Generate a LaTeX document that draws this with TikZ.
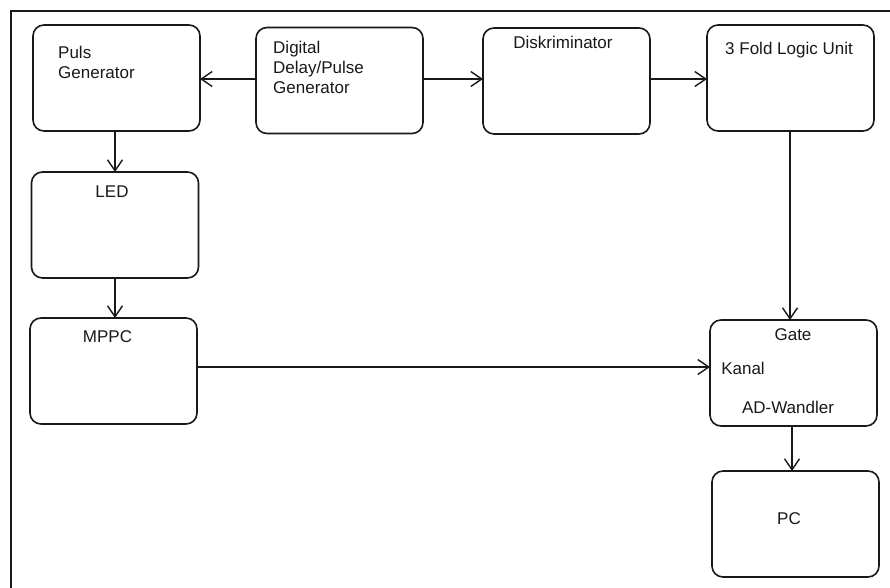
\documentclass[tikz,border=0pt]{standalone}
\usepackage{fontspec}
\setmainfont{Liberation Sans}
\usetikzlibrary{arrows.meta}
\begin{document}
\begin{tikzpicture}[x=1pt,y=-1pt,
  box/.style={draw=black!90,line width=1.6pt,rounded corners=11pt,minimum width=167pt,minimum height=106pt,inner sep=0pt,outer sep=0pt},
  lbl/.style={font=\fontsize{17}{20}\selectfont,inner sep=0pt,text=black!90},
  conn/.style={draw=black!90,line width=1.6pt,-{Straight Barb[length=11pt,width=15pt,line width=1.4pt]}}]
\useasboundingbox (0,0) rectangle (890,587);
\fill[white] (0,0) rectangle (890,587);
% outer frame
\coordinate (fb) at (11,600);
\coordinate (fc) at (11,11);
\coordinate (fr) at (900,11);
\draw[line width=1.8pt,black!90] (fb) -- (fc) -- (fr);
% boxes
\node[box] (pg) at (116.5,78) {};
\node[box] (dd) at (339.5,80.5) {};
\node[box] (dk) at (566.5,81) {};
\node[box] (fl) at (790.5,78) {};
\node[box] (led) at (115,225) {};
\node[box] (mppc) at (113.5,371) {};
\node[box] (adc) at (793.5,373) {};
\node[box] (pc) at (795.5,524) {};
% labels
\node[lbl,align=left,anchor=west] (tpg) at (58,62) {Puls\\Generator};
\node[lbl,align=left,anchor=west] (tdd) at (273,67) {Digital\\Delay/Pulse\\Generator};
\node[lbl] (tdk) at (563,42) {Diskriminator};
\node[lbl] (tfl) at (789,50) {3 Fold Logic Unit};
\node[lbl] (tled) at (112,192) {LED};
\node[lbl] (tmppc) at (107.5,337) {MPPC};
\node[lbl] (tgate) at (793,335) {Gate};
\node[lbl] (tkanal) at (743,368) {Kanal};
\node[lbl] (tadw) at (788,407) {AD-Wandler};
\node[lbl] (tpc) at (789,519) {PC};
% connectors
\draw[conn] (dd.west |- 0,79) -- (pg.east |- 0,79);
\draw[conn] (dd.east |- 0,79) -- (dk.west |- 0,79);
\draw[conn] (dk.east |- 0,79) -- (fl.west |- 0,79);
\draw[conn] (pg.south -| 115,0) -- (led.north -| 115,0);
\draw[conn] (led.south -| 115,0) -- (mppc.north -| 115,0);
\draw[conn] (fl.south -| 790,0) -- (adc.north -| 790,0);
\draw[conn] (mppc.east |- 0,367) -- (adc.west |- 0,367);
\draw[conn] (adc.south -| 792,0) -- (pc.north -| 792,0);
\end{tikzpicture}
\end{document}
